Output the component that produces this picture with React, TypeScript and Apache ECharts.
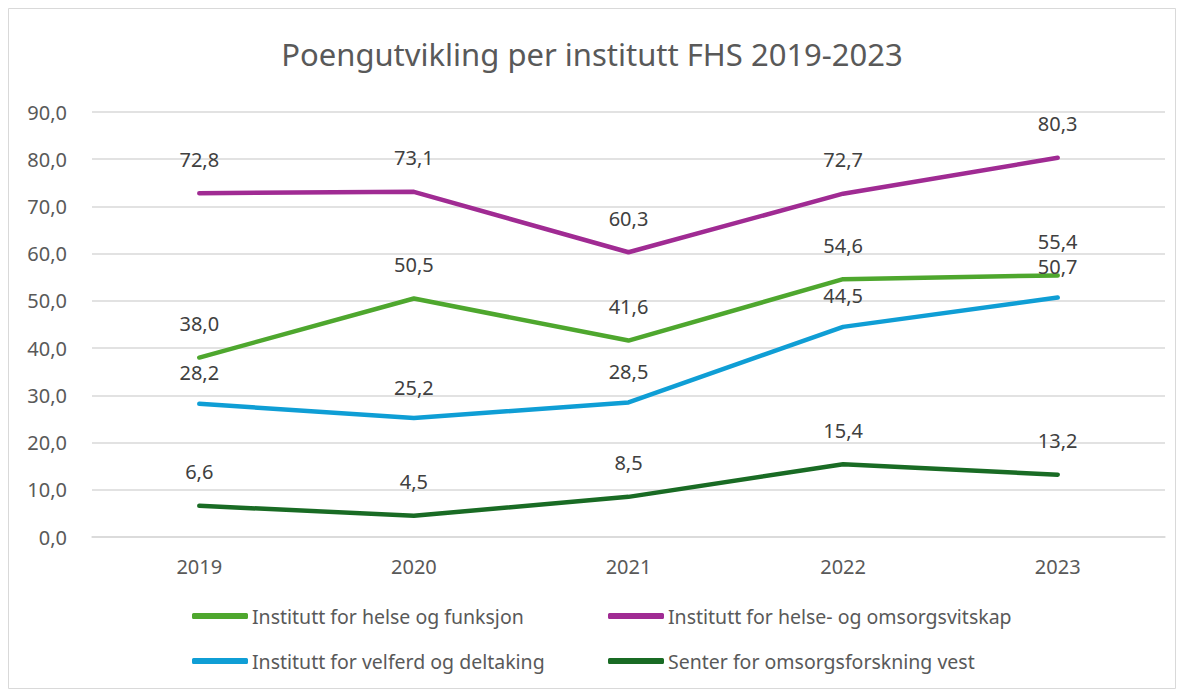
import React, { useEffect, useRef } from "react";
import * as echarts from "echarts";

const categories = ["2019", "2020", "2021", "2022", "2023"];
const helseFunksjon = [38.0, 50.5, 41.6, 54.6, 55.4];
const helseOmsorg = [72.8, 73.1, 60.3, 72.7, 80.3];
const velferd = [28.2, 25.2, 28.5, 44.5, 50.7];
const senter = [6.6, 4.5, 8.5, 15.4, 13.2];

const seriesNames = [
  "Institutt for helse og funksjon",
  "Institutt for helse- og omsorgsvitskap",
  "Institutt for velferd og deltaking",
  "Senter for omsorgsforskning vest",
];
const colors = ["#4EA72E", "#A02B93", "#0F9ED5", "#196B24"];
const labelDistances = [24, 24, 21, 24];
const FONT = "'Noto Sans', sans-serif";
const fmt = (v: number) => v.toFixed(1).replace(".", ",");

export default function App() {
  const ref = useRef<HTMLDivElement>(null);
  useEffect(() => {
    const chart = echarts.init(ref.current!, null, { renderer: "svg" });
    const datas = [helseFunksjon, helseOmsorg, velferd, senter];
    const legendPos = [
      { left: 192, top: 606 },
      { left: 608, top: 606 },
      { left: 192, top: 651 },
      { left: 608, top: 651 },
    ];
    chart.setOption({
      animation: false,
      backgroundColor: "#ffffff",
      textStyle: { fontFamily: FONT },
      title: {
        text: "Poengutvikling per institutt FHS 2019-2023",
        left: "center",
        top: 33,
        textStyle: { fontSize: 31, fontWeight: "normal", color: "#595959", fontFamily: FONT },
      },
      graphic: [
        {
          type: "rect",
          shape: { x: 8.5, y: 8.5, width: 1167, height: 680 },
          style: { fill: "none", stroke: "#d9d9d9", lineWidth: 1 },
          silent: true,
        },
      ],
      legend: seriesNames.map((n, i) => ({
        data: [n],
        left: legendPos[i].left,
        top: legendPos[i].top,
        itemWidth: 56,
        itemHeight: 6,
        itemGap: 0,
        icon: "roundRect",
        padding: 0,
        textStyle: { fontSize: 19.5, color: "#595959", fontFamily: FONT, padding: [0, 0, 0, -1] },
      })),
      grid: { left: 92, right: 19, top: 112, bottom: 157 },
      xAxis: {
        type: "category",
        data: categories,
        boundaryGap: true,
        axisTick: { show: false },
        axisLine: { lineStyle: { color: "#d9d9d9", width: 1.5 } },
        axisLabel: { color: "#595959", fontSize: 20, margin: 19, fontFamily: FONT },
      },
      yAxis: {
        type: "value",
        min: 0,
        max: 90,
        interval: 10,
        axisLabel: {
          color: "#595959",
          fontSize: 20,
          margin: 25,
          fontFamily: FONT,
          formatter: (v: number) => fmt(v),
        },
        splitLine: { lineStyle: { color: "#d9d9d9", width: 1.5 } },
        axisLine: { show: false },
        axisTick: { show: false },
      },
      series: seriesNames.map((n, i) => ({
        name: n,
        type: "line",
        data: datas[i],
        color: colors[i],
        symbol: "circle",
        symbolSize: 0,
        showSymbol: true,
        lineStyle: { width: 4.5, cap: "round", join: "round", color: colors[i] },
        label: {
          show: true,
          position: "top",
          distance: labelDistances[i],
          fontSize: 20,
          lineHeight: 20,
          color: "#404040",
          fontFamily: FONT,
          formatter: (p: any) => fmt(p.value),
        },
        labelLayout: { hideOverlap: false },
      })),
    });
    return () => chart.dispose();
  }, []);
  return (
    <div
      ref={ref}
      style={{ position: "absolute", left: 0, top: 0, width: 1184, height: 694 }}
    />
  );
}
